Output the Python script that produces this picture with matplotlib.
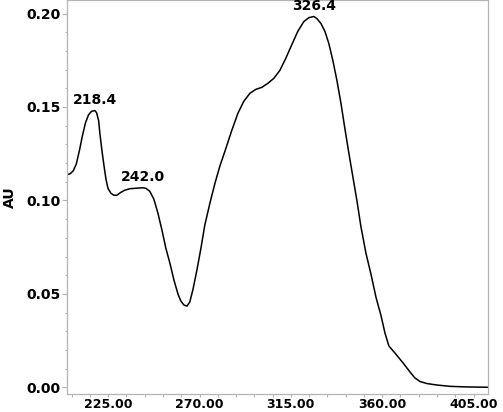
import matplotlib
matplotlib.use("Agg")
import matplotlib.pyplot as plt
from matplotlib.ticker import MultipleLocator, FormatStrFormatter

# Wavelength (nm) and absorbance (AU)
wavelength = [204.7, 206.3, 207.8, 209.3, 210.8, 212.3, 213.8, 215.3, 216.8, 218.4,
              219.3, 220.3, 220.9, 221.9, 222.9, 223.9, 224.9, 226.3, 227.8, 229.3,
              231.3, 233.2, 235.7, 238.2, 242.0, 243.6, 245.5, 247.5, 249.5, 251.5,
              253.4, 255.4, 257.4, 259.4, 260.8, 262.3, 263.8, 265.2, 266.7, 268.7,
              270.7, 272.6, 275.1, 277.6, 280.0, 283.0, 285.9, 288.9, 291.8, 294.8,
              297.7, 300.7, 303.6, 306.6, 309.6, 312.5, 315.5, 318.4, 321.4, 323.9,
              326.4, 327.8, 329.8, 331.8, 333.7, 335.7, 337.7, 339.7, 341.6, 343.6,
              345.6, 347.6, 349.5, 352.0, 354.5, 357.0, 359.4, 361.4, 363.3, 366.3,
              370.3, 373.7, 376.1, 378.6, 382.0, 387.0, 393.4, 400.8, 412.0]
absorbance = [0.1138, 0.1143, 0.1159, 0.1196, 0.1266, 0.1346, 0.1415, 0.1458, 0.1477, 0.1481,
              0.1469, 0.1426, 0.1359, 0.1268, 0.1188, 0.1114, 0.1065, 0.1039, 0.1028, 0.1028,
              0.1044, 0.1055, 0.1063, 0.1065, 0.1068, 0.1065, 0.1049, 0.1007, 0.0932, 0.0841,
              0.0745, 0.0665, 0.0574, 0.0499, 0.0462, 0.0441, 0.0435, 0.0457, 0.0521, 0.0627,
              0.0745, 0.0868, 0.0985, 0.1092, 0.1183, 0.1279, 0.1375, 0.1466, 0.1530, 0.1573,
              0.1594, 0.1605, 0.1626, 0.1653, 0.1696, 0.1760, 0.1834, 0.1904, 0.1957, 0.1978,
              0.1984, 0.1973, 0.1947, 0.1904, 0.1840, 0.1749, 0.1642, 0.1519, 0.1386, 0.1252,
              0.1124, 0.0996, 0.0862, 0.0718, 0.0605, 0.0480, 0.0385, 0.0290, 0.0222, 0.0184,
              0.0131, 0.0083, 0.0051, 0.0032, 0.0021, 0.0013, 0.0006, 0.0003, 0.0001]

peak_wl = [218.4, 242.0, 326.4]
peak_au = [0.1481, 0.1068, 0.1984]
peak_labels = ["218.4", "242.0", "326.4"]

x_ticks = [225, 270, 315, 360, 405]
y_ticks = [0.00, 0.05, 0.10, 0.15, 0.20]

grey = "#b4b4b4"

fig = plt.figure(figsize=(5.03, 4.12), dpi=100)
ax = fig.add_axes([0.1332, 0.0437, 0.8364, 0.9553])

ax.plot(wavelength, absorbance, color="black", lw=1.1)

for wl, au, lab in zip(peak_wl, peak_au, peak_labels):
    ax.annotate(lab, xy=(wl, au), xytext=(0, 2.5), textcoords="offset points",
                ha="center", va="bottom", fontsize=10, fontweight="bold",
                family="DejaVu Sans")

ax.set_xlim(204.7, 412.0)
ax.set_ylim(-0.0035, 0.207)

ax.set_xticks(x_ticks)
ax.set_xticklabels([f"{v:.2f}" for v in x_ticks])
ax.xaxis.set_minor_locator(MultipleLocator(9))
ax.set_yticks(y_ticks)
ax.yaxis.set_major_formatter(FormatStrFormatter("%.2f"))
ax.yaxis.set_minor_locator(MultipleLocator(0.01))

for s in ax.spines.values():
    s.set_color(grey)
    s.set_linewidth(0.9)

ax.tick_params(axis="y", which="major", length=3.3, width=0.8, color=grey, pad=1.2,
               labelsize=10)
ax.tick_params(axis="y", which="minor", length=1.8, width=0.8, color=grey)
ax.tick_params(axis="x", which="major", length=2.3, width=0.8, color=grey, pad=0.3,
               labelsize=9)
ax.tick_params(axis="x", which="minor", length=2.3, width=0.8, color=grey)
for lab in ax.get_xticklabels() + ax.get_yticklabels():
    lab.set_fontweight("bold")

ax.set_ylabel("AU", fontsize=10, fontweight="bold")
ax.yaxis.set_label_coords(-0.118, 0.5)

fig.savefig("out.png", dpi=100)
